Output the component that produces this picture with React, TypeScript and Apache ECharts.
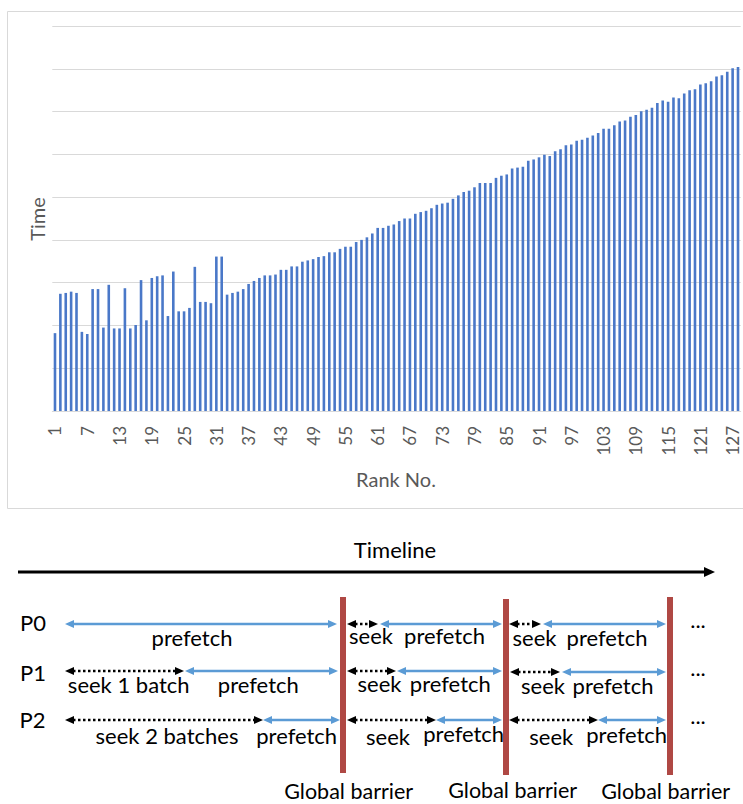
import React, { useEffect, useRef } from "react";
import * as echarts from "echarts";

// ---------- data ----------
const rankLabels: string[] = Array.from({ length: 128 }, (_, i) => String(i + 1));

const timeValues: number[] = [
  1.82, 2.74, 2.76, 2.79, 2.76, 1.85, 1.8, 2.85, 2.85, 1.95,
  2.95, 1.93, 1.93, 2.87, 1.93, 2.01, 3.06, 2.12, 3.11, 3.15,
  3.17, 2.22, 3.26, 2.33, 2.33, 2.41, 3.37, 2.55, 2.55, 2.52,
  3.61, 3.61, 2.72, 2.76, 2.79, 2.85, 2.97, 3.04, 3.11, 3.17,
  3.17, 3.19, 3.3, 3.3, 3.38, 3.38, 3.49, 3.52, 3.55, 3.6,
  3.62, 3.71, 3.71, 3.79, 3.84, 3.84, 3.95, 4.0, 4.06, 4.15,
  4.28, 4.28, 4.33, 4.36, 4.44, 4.5, 4.5, 4.61, 4.65, 4.68,
  4.74, 4.82, 4.85, 4.87, 4.96, 5.04, 5.12, 5.15, 5.23, 5.33,
  5.33, 5.33, 5.45, 5.5, 5.53, 5.67, 5.69, 5.71, 5.85, 5.88,
  5.93, 5.99, 5.96, 6.07, 6.12, 6.21, 6.23, 6.32, 6.34, 6.39,
  6.44, 6.5, 6.6, 6.6, 6.68, 6.77, 6.79, 6.88, 6.92, 7.01,
  7.04, 7.09, 7.2, 7.26, 7.23, 7.33, 7.31, 7.42, 7.5, 7.52,
  7.63, 7.66, 7.71, 7.82, 7.85, 7.93, 8.01, 8.04,
];

const xAxisTitle = "Rank No.";
const yAxisTitle = "Time";
const processNames = ["P0", "P1", "P2"];
const timelineTitle = "Timeline";
const barrierLabel = "Global barrier";

// ---------- diagram layout ----------
const FONT = "Lato, 'Open Sans', sans-serif";
const BLUE = "#5B9BD5";
const RED = "#AF4844";
const GRAY = "#595959";

type Seg = { x1: number; x2: number; y: number; dotted: boolean };
const segments: Seg[] = [
  // P0
  { x1: 65, x2: 337, y: 624, dotted: false },
  { x1: 347, x2: 378, y: 624, dotted: true },
  { x1: 380, x2: 502, y: 624, dotted: false },
  { x1: 509, x2: 541, y: 624, dotted: true },
  { x1: 543, x2: 666, y: 624, dotted: false },
  // P1
  { x1: 65, x2: 184, y: 671, dotted: true },
  { x1: 185, x2: 338, y: 671, dotted: false },
  { x1: 347, x2: 396, y: 671, dotted: true },
  { x1: 397, x2: 502, y: 671, dotted: false },
  { x1: 510, x2: 560, y: 672, dotted: true },
  { x1: 562, x2: 666, y: 672, dotted: false },
  // P2
  { x1: 65, x2: 263, y: 720, dotted: true },
  { x1: 263, x2: 340, y: 720, dotted: false },
  { x1: 347, x2: 436, y: 720, dotted: true },
  { x1: 436, x2: 502, y: 720, dotted: false },
  { x1: 509, x2: 598, y: 720, dotted: true },
  { x1: 598, x2: 666, y: 720, dotted: false },
];

type Lbl = { x: number; base: number; text: string };
const labels: Lbl[] = [
  { x: 33, base: 630, text: processNames[0] },
  { x: 33, base: 680, text: processNames[1] },
  { x: 32.5, base: 727, text: processNames[2] },
  // P0
  { x: 192, base: 645.5, text: "prefetch" },
  { x: 371, base: 643.5, text: "seek" },
  { x: 444.5, base: 643.5, text: "prefetch" },
  { x: 534.5, base: 645, text: "seek" },
  { x: 607, base: 645, text: "prefetch" },
  { x: 698, base: 627, text: "..." },
  // P1
  { x: 128.7, base: 692.5, text: "seek 1 batch" },
  { x: 258.3, base: 692.5, text: "prefetch" },
  { x: 379.5, base: 691.7, text: "seek" },
  { x: 450.3, base: 691.7, text: "prefetch" },
  { x: 543, base: 693.3, text: "seek" },
  { x: 613, base: 693.3, text: "prefetch" },
  { x: 698, base: 675, text: "..." },
  // P2
  { x: 167, base: 743.3, text: "seek 2 batches" },
  { x: 296.7, base: 743.3, text: "prefetch" },
  { x: 388, base: 744, text: "seek" },
  { x: 463.7, base: 741.7, text: "prefetch" },
  { x: 551.3, base: 744, text: "seek" },
  { x: 626.7, base: 742, text: "prefetch" },
  { x: 698, base: 723, text: "..." },
  // timeline
  { x: 395, base: 557, text: timelineTitle },
];

const barrierLabels: Lbl[] = [
  { x: 348.7, base: 799, text: barrierLabel },
  { x: 512.7, base: 798, text: barrierLabel },
  { x: 665.7, base: 799, text: barrierLabel },
];

const barriers = [
  { x: 343, y1: 597, y2: 773 },
  { x: 506, y1: 599, y2: 775 },
  { x: 670, y1: 597, y2: 775 },
];

const FS = 22;
const MID = 0.36;

function buildGraphics(): any[] {
  const g: any[] = [];
  // chart frame
  g.push({
    type: "rect",
    shape: { x: 7.5, y: 11.5, width: 737, height: 497 },
    style: { fill: "none", stroke: "#D9D9D9", lineWidth: 1 },
    silent: true,
  });
  g.push({
    type: "text",
    x: 396,
    y: 479,
    style: { text: xAxisTitle, fill: GRAY, fontSize: 20, fontFamily: FONT, align: "center", verticalAlign: "middle" },
  });
  g.push({
    type: "text",
    x: 36.7,
    y: 219,
    rotation: Math.PI / 2,
    style: { text: yAxisTitle, fill: GRAY, fontSize: 20, fontFamily: FONT, align: "center", verticalAlign: "middle" },
  });
  // timeline arrow
  g.push({
    type: "line",
    shape: { x1: 18, y1: 572, x2: 706, y2: 572 },
    style: { stroke: "#000", lineWidth: 3 },
  });
  g.push({
    type: "polygon",
    shape: { points: [[715, 572], [704, 567], [704, 577]] },
    style: { fill: "#000" },
  });
  // arrows
  const L = 9;
  const H = 8;
  segments.forEach((s) => {
    const color = s.dotted ? "#000" : BLUE;
    g.push({
      type: "line",
      shape: { x1: s.x1 + L - 1, y1: s.y, x2: s.x2 - L + 1, y2: s.y },
      style: s.dotted
        ? { stroke: color, lineWidth: 2.5, lineDash: [2.5, 2.5] }
        : { stroke: color, lineWidth: 2.5 },
    });
    g.push({
      type: "polygon",
      shape: { points: [[s.x1, s.y], [s.x1 + L, s.y - H / 2], [s.x1 + L, s.y + H / 2]] },
      style: { fill: color },
    });
    g.push({
      type: "polygon",
      shape: { points: [[s.x2, s.y], [s.x2 - L, s.y - H / 2], [s.x2 - L, s.y + H / 2]] },
      style: { fill: color },
    });
  });
  // barriers
  barriers.forEach((b) => {
    g.push({
      type: "rect",
      shape: { x: b.x - 3, y: b.y1, width: 6, height: b.y2 - b.y1 },
      style: { fill: RED },
    });
  });
  // labels
  labels.forEach((l) => {
    g.push({
      type: "text",
      x: l.x,
      y: l.base - MID * FS,
      style: { text: l.text, fill: "#000", fontSize: FS, fontFamily: FONT, align: "center", verticalAlign: "middle" },
    });
  });
  barrierLabels.forEach((l) => {
    g.push({
      type: "text",
      x: l.x,
      y: l.base - MID * FS,
      style: { text: l.text, fill: "#000", fontSize: 21.5, fontFamily: FONT, align: "center", verticalAlign: "middle" },
    });
  });
  return g;
}

export default function App() {
  const ref = useRef<HTMLDivElement>(null);
  useEffect(() => {
    if (!ref.current) return;
    const chart = echarts.init(ref.current, null, { renderer: "svg" });
    chart.setOption({
      animation: false,
      backgroundColor: "#fff",
      grid: { left: 52.3, right: 2.3, top: 26, bottom: 393, containLabel: false },
      xAxis: {
        type: "category",
        data: rankLabels,
        axisLine: { show: true, lineStyle: { color: "#D9D9D9", width: 1 } },
        axisTick: { show: false },
        axisLabel: {
          interval: 5,
          rotate: 90,
          margin: 15,
          color: GRAY,
          fontSize: 17,
          fontFamily: FONT,
        },
      },
      yAxis: {
        type: "value",
        min: 0,
        max: 9,
        interval: 1,
        axisLabel: { show: false },
        axisLine: { show: false },
        axisTick: { show: false },
        splitLine: { show: true, lineStyle: { color: "#D9D9D9", width: 1 } },
      },
      series: [
        {
          type: "bar",
          data: timeValues,
          barWidth: 2.6,
          itemStyle: { color: "#4A78C8" },
        },
      ],
      graphic: buildGraphics(),
    });
    return () => chart.dispose();
  }, []);
  return (
    <div
      ref={ref}
      style={{ position: "absolute", left: 0, top: 0, width: 743, height: 804, background: "#fff" }}
    />
  );
}
